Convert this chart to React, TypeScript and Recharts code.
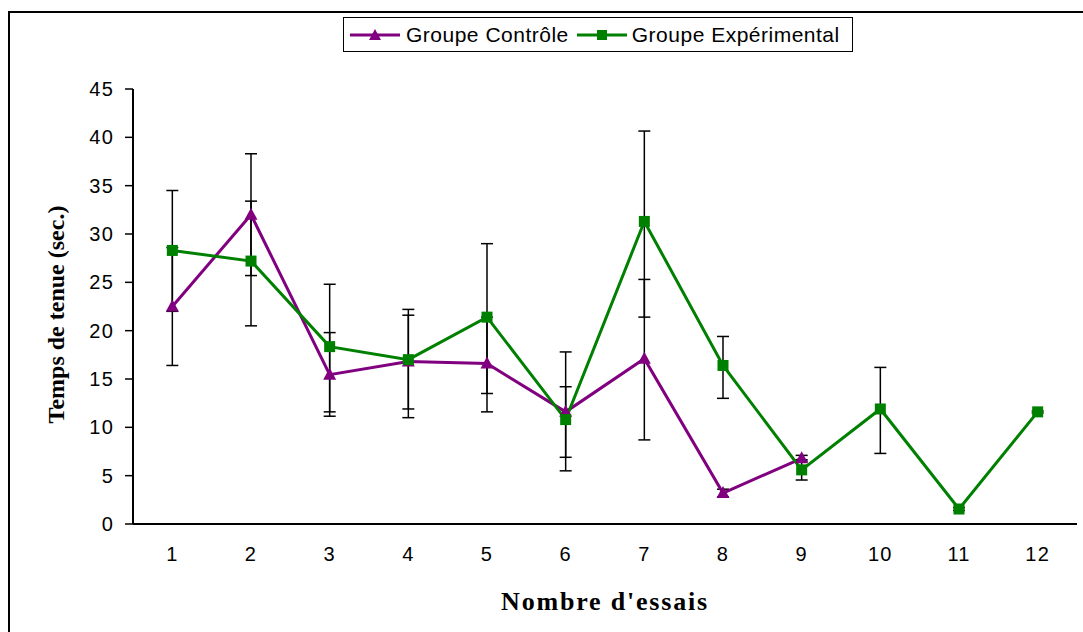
import React from 'react';
import { LineChart, Line, XAxis, YAxis, ErrorBar, Legend } from 'recharts';

// valeurs
const trials = [1, 2, 3, 4, 5, 6, 7, 8, 9, 10, 11, 12];
const boundaries = [0.5, 1.5, 2.5, 3.5, 4.5, 5.5, 6.5, 7.5, 8.5, 9.5, 10.5, 11.5, 12.5];
const yTicks = [0, 5, 10, 15, 20, 25, 30, 35, 40, 45];

const controlMean = [22.5, 32.0, 15.45, 16.8, 16.6, 11.6, 17.1, 3.2, 6.8, null, null, null];
const controlErrLow = [6.1, 6.3, 4.3, 4.9, 5.0, 6.1, 8.4, 0.4, 0.3, null, null, null];
const controlErrHigh = [6.1, 6.3, 4.35, 4.8, 4.8, 6.2, 8.2, 0.4, 0.3, null, null, null];

const expMean = [28.3, 27.2, 18.35, 17.0, 21.4, 10.8, 31.3, 16.4, 5.6, 11.9, 1.55, 11.6];
const expErrLow = [6.3, 6.7, 6.75, 6.0, 7.9, 3.9, 9.9, 3.4, 1.05, 4.6, 0.15, 0.1];
const expErrHigh = [6.2, 6.2, 6.45, 5.2, 7.6, 3.4, 9.35, 3.0, 1.05, 4.3, 0.15, 0.1];

const PURPLE = '#800080';
const GREEN = '#008000';

const data = trials.map((t, i) => ({
    trial: t,
    control: controlMean[i],
    controlErr: controlMean[i] == null ? null : [controlErrLow[i], controlErrHigh[i]],
    exp: expMean[i],
    expErr: [expErrLow[i], expErrHigh[i]],
}));

const Triangle = (props: any) => {
    const { cx, cy, index } = props;
    if (cx == null || cy == null) return <g key={`t-${index}`} />;
    return (
        <polygon
            key={`t-${index}`}
            points={`${cx},${cy - 7} ${cx - 6.5},${cy + 5} ${cx + 6.5},${cy + 5}`}
            fill={PURPLE}
        />
    );
};

const Square = (props: any) => {
    const { cx, cy, index } = props;
    if (cx == null || cy == null) return <g key={`s-${index}`} />;
    return <rect key={`s-${index}`} x={cx - 5.5} y={cy - 5.5} width={11} height={11} fill={GREEN} />;
};

const LegendIcon = ({ color, shape }: { color: string; shape: 'tri' | 'sq' }) => (
    <svg width={50} height={14} style={{ display: 'block' }}>
        <line x1={0} y1={7} x2={50} y2={7} stroke={color} strokeWidth={3} />
        {shape === 'tri' ? (
            <polygon points="25,1 19,12 31,12" fill={color} />
        ) : (
            <rect x={20} y={2} width={10} height={10} fill={color} />
        )}
    </svg>
);

const renderLegend = () => (
    <div
        style={{
            display: 'inline-flex',
            alignItems: 'center',
            border: '1.5px solid #000',
            height: 33,
            padding: '0 12px 0 6px',
            background: '#fff',
            fontFamily: '"Liberation Sans", Arial, sans-serif',
            fontSize: 21,
            letterSpacing: 0.5,
            color: '#000',
        }}
    >
        <LegendIcon color={PURPLE} shape="tri" />
        <span style={{ marginLeft: 6, marginRight: 8 }}>Groupe Contrôle</span>
        <LegendIcon color={GREEN} shape="sq" />
        <span style={{ marginLeft: 5 }}>Groupe Expérimental</span>
    </div>
);

const YLabel = (props: any) => {
    const { viewBox } = props;
    const x = viewBox.x + 56;
    const y = viewBox.y + viewBox.height / 2 + 8;
    return (
        <text
            x={x}
            y={y}
            transform={`rotate(-90 ${x} ${y})`}
            textAnchor="middle"
            dominantBaseline="central"
            fontFamily='"Liberation Serif", "Times New Roman", serif'
            fontWeight="bold"
            fontSize={24}
            fill="#000"
        >
            Temps de tenue (sec.)
        </text>
    );
};

const tickStyle = { fill: '#000', fontSize: 20, fontFamily: '"Liberation Sans", Arial, sans-serif', letterSpacing: 1.2 };

export default function App() {
    return (
        <div style={{ position: 'absolute', left: 0, top: 0, width: 1083, height: 632, background: '#fff', overflow: 'hidden' }}>
            <div
                style={{
                    position: 'absolute',
                    left: 8,
                    top: 11,
                    width: 1100,
                    height: 640,
                    borderLeft: '2px solid #000',
                    borderTop: '2px solid #000',
                }}
            />
            <div style={{ position: 'absolute', left: 0, top: 0 }}>
                <LineChart width={1083} height={632} data={data} margin={{ top: 54, right: 6, bottom: 0, left: 0 }}>
                    <XAxis
                        xAxisId="grid"
                        type="number"
                        dataKey="trial"
                        domain={[0.5, 12.5]}
                        ticks={boundaries}
                        tick={false}
                        tickSize={7}
                        height={8}
                        axisLine={{ stroke: '#000', strokeWidth: 2 }}
                        tickLine={{ stroke: '#000', strokeWidth: 1.5 }}
                        allowDataOverflow
                    />
                    <XAxis
                        xAxisId="labels"
                        type="number"
                        dataKey="trial"
                        domain={[0.5, 12.5]}
                        ticks={trials}
                        axisLine={false}
                        tickLine={false}
                        tickSize={0}
                        tickMargin={15}
                        height={100}
                        tick={tickStyle}
                        label={{
                            value: "Nombre d'essais",
                            position: 'insideBottom',
                            offset: 22,
                            fill: '#000',
                            fontSize: 26,
                            fontWeight: 'bold',
                            fontFamily: '"Liberation Serif", "Times New Roman", serif',
                            letterSpacing: 1.8,
                        }}
                    />
                    <YAxis
                        type="number"
                        domain={[0, 45]}
                        ticks={yTicks}
                        width={133}
                        tickSize={8}
                        tickMargin={11}
                        axisLine={{ stroke: '#000', strokeWidth: 2 }}
                        tickLine={{ stroke: '#000', strokeWidth: 1.5 }}
                        tick={tickStyle}
                        label={<YLabel />}
                    />
                    <Legend verticalAlign="top" wrapperStyle={{ top: 17, left: 343, width: 'auto' }} content={renderLegend} />
                    <Line
                        xAxisId="grid"
                        dataKey="control"
                        name="Groupe Contrôle"
                        stroke={PURPLE}
                        strokeWidth={3}
                        dot={Triangle}
                        activeDot={false}
                        isAnimationActive={false}
                    >
                        <ErrorBar dataKey="controlErr" direction="y" width={6} stroke="#000" strokeWidth={1.5} />
                    </Line>
                    <Line
                        xAxisId="grid"
                        dataKey="exp"
                        name="Groupe Expérimental"
                        stroke={GREEN}
                        strokeWidth={3}
                        dot={Square}
                        activeDot={false}
                        isAnimationActive={false}
                    >
                        <ErrorBar dataKey="expErr" direction="y" width={6} stroke="#000" strokeWidth={1.5} />
                    </Line>
                </LineChart>
            </div>
        </div>
    );
}
